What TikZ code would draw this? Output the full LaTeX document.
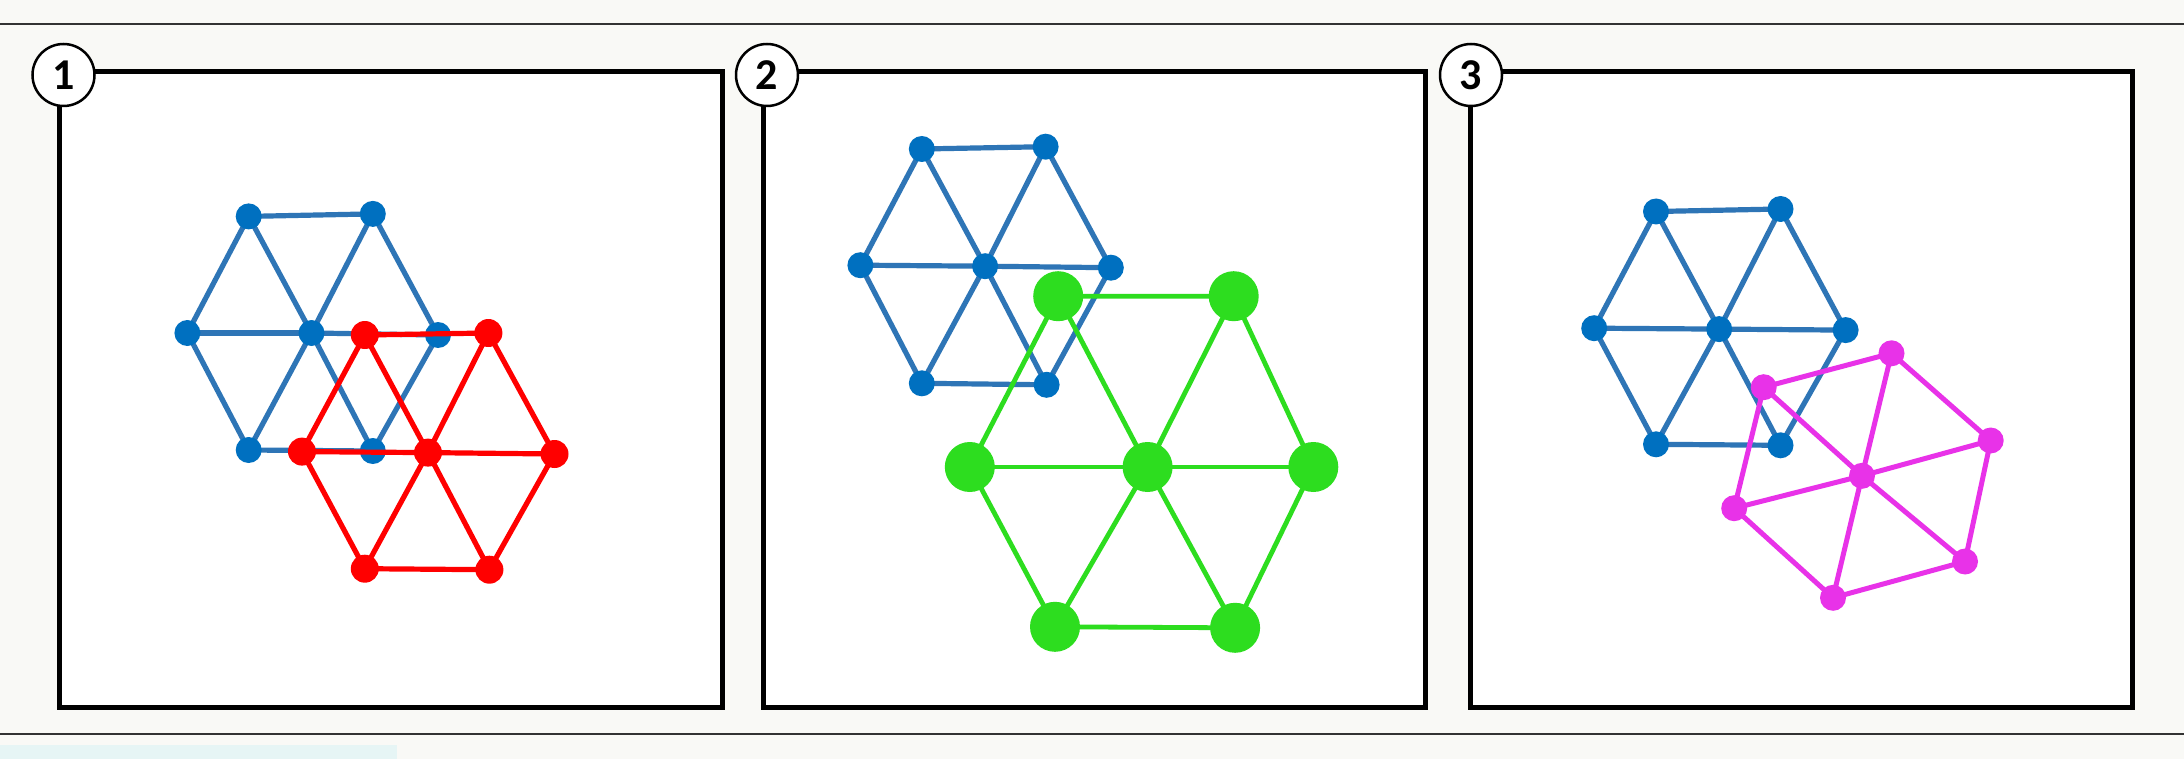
\documentclass[tikz,border=0pt]{standalone}
\usepackage{fontspec}
\setmainfont{Carlito}
\definecolor{pagebg}{HTML}{F9F9F6}
\definecolor{tintbox}{HTML}{E6F5F5}
\definecolor{bluedot}{HTML}{0070C0}
\definecolor{blueline}{HTML}{2E75B6}
\definecolor{reddot}{HTML}{FF0000}
\definecolor{greendot}{HTML}{2DDD1F}
\definecolor{magdot}{HTML}{E832E8}
\definecolor{sepline}{HTML}{333333}
\pgfdeclarelayer{bg}
\pgfdeclarelayer{ea}
\pgfdeclarelayer{na}
\pgfdeclarelayer{eb}
\pgfdeclarelayer{nb}
\pgfsetlayers{bg,ea,na,eb,nb,main}
\begin{document}
\begin{tikzpicture}[x=1pt,y=-1pt,
  dotbase/.style={circle,inner sep=0pt,outer sep=0pt,draw=none},
  bdot/.style={dotbase,fill=bluedot,minimum size=26pt},
  rdot/.style={dotbase,fill=reddot,minimum size=28pt},
  gdot/.style={dotbase,fill=greendot,minimum size=50pt},
  mdot/.style={dotbase,fill=magdot,minimum size=26pt},
  bline/.style={draw=blueline,line width=5.2pt,line join=round},
  rline/.style={draw=reddot,line width=5.2pt,line join=round},
  gline/.style={draw=greendot,line width=4.8pt,line join=round},
  mline/.style={draw=magdot,line width=5pt,line join=round},
  panel/.style={draw=black,fill=white,line width=5pt},
  sep/.style={draw=sepline,line width=2pt},
  numlab/.style={circle,draw=black,fill=white,line width=2.5pt,minimum size=62pt,inner sep=0pt,
    font=\fontsize{44}{44}\selectfont\bfseries}
]
\useasboundingbox (0,0) rectangle (2184,759);
\begin{pgfonlayer}{bg}
  \fill[pagebg] (0,0) rectangle (2184,759);
  \fill[tintbox] (0,745) rectangle (397,759);
  \draw[sep] (0,24) -- (2184,24);
  \draw[sep] (0,734) -- (2184,734);
  \draw[panel] (59,71.7) rectangle (722,707.7);
  \draw[panel] (763,71.7) rectangle (1425.5,707.7);
  \draw[panel] (1470,71.7) rectangle (2132,707.7);
\end{pgfonlayer}

% ---------- Panel 1 ----------
\begin{pgfonlayer}{na}
  \node[bdot] (ab-tl) at (248.7,216.4) {};
  \node[bdot] (ab-tr) at (372.8,213.9) {};
  \node[bdot] (ab-l)  at (187.4,333) {};
  \node[bdot] (ab-c)  at (311.5,333) {};
  \node[bdot] (ab-r)  at (438,335) {};
  \node[bdot] (ab-bl) at (248.7,450) {};
  \node[bdot] (ab-br) at (372.8,451) {};
\end{pgfonlayer}
\begin{pgfonlayer}{nb}
  \node[rdot] (ar-tl) at (364.8,335) {};
  \node[rdot] (ar-tr) at (488.4,333) {};
  \node[rdot] (ar-l)  at (302,451.6) {};
  \node[rdot] (ar-c)  at (428,452.6) {};
  \node[rdot] (ar-r)  at (554.5,454) {};
  \node[rdot] (ar-bl) at (364.8,568.7) {};
  \node[rdot] (ar-br) at (489.4,569.7) {};
\end{pgfonlayer}

% ---------- Panel 2 ----------
\begin{pgfonlayer}{na}
  \node[bdot] (bb-tl) at (921.8,149) {};
  \node[bdot] (bb-tr) at (1045.6,146.7) {};
  \node[bdot] (bb-l)  at (860.4,265.2) {};
  \node[bdot] (bb-c)  at (985.1,266.2) {};
  \node[bdot] (bb-r)  at (1110.8,267.7) {};
  \node[bdot] (bb-bl) at (921.8,383.3) {};
  \node[bdot] (bb-br) at (1046.6,384.8) {};
\end{pgfonlayer}
\begin{pgfonlayer}{nb}
  \node[gdot] (bg-tl) at (1058.2,296.2) {};
  \node[gdot] (bg-tr) at (1233.7,296.2) {};
  \node[gdot] (bg-l)  at (969.8,467) {};
  \node[gdot] (bg-c)  at (1147.6,467) {};
  \node[gdot] (bg-r)  at (1313.3,467) {};
  \node[gdot] (bg-bl) at (1055,626.8) {};
  \node[gdot] (bg-br) at (1235.1,627.8) {};
\end{pgfonlayer}

% ---------- Panel 3 ----------
\begin{pgfonlayer}{na}
  \node[bdot] (cb-tl) at (1656,211.5) {};
  \node[bdot] (cb-tr) at (1780.5,209) {};
  \node[bdot] (cb-l)  at (1594.2,328.2) {};
  \node[bdot] (cb-c)  at (1719.2,329.1) {};
  \node[bdot] (cb-r)  at (1845.6,330.1) {};
  \node[bdot] (cb-bl) at (1656,444.3) {};
  \node[bdot] (cb-br) at (1780.5,445.3) {};
\end{pgfonlayer}
\begin{pgfonlayer}{nb}
  \node[mdot] (cm-tl) at (1763.7,387.2) {};
  \node[mdot] (cm-tr) at (1891.5,353.3) {};
  \node[mdot] (cm-r)  at (1990.7,440.5) {};
  \node[mdot] (cm-c)  at (1862,475.8) {};
  \node[mdot] (cm-br) at (1965,561.5) {};
  \node[mdot] (cm-bl) at (1833,597.8) {};
  \node[mdot] (cm-l)  at (1734.2,508.2) {};
\end{pgfonlayer}

% ---------- Edges ----------
\begin{pgfonlayer}{ea}
  \foreach \g in {ab,bb,cb}{
    \foreach \v in {tl,tr,r,br,bl,l}
      \draw[bline] (\g-c.center) -- (\g-\v.center);
    \draw[bline] (\g-tl.center) -- (\g-tr.center) -- (\g-r.center) -- (\g-br.center)
      -- (\g-bl.center) -- (\g-l.center) -- cycle;
  }
\end{pgfonlayer}
\begin{pgfonlayer}{eb}
  \foreach \g/\s in {ar/rline,bg/gline,cm/mline}{
    \foreach \v in {tl,tr,r,br,bl,l}
      \draw[\s] (\g-c.center) -- (\g-\v.center);
    \draw[\s] (\g-tl.center) -- (\g-tr.center) -- (\g-r.center) -- (\g-br.center)
      -- (\g-bl.center) -- (\g-l.center) -- cycle;
  }
\end{pgfonlayer}

% ---------- Labels ----------
\node[numlab] (lab1) at (63.5,75) {1};
\node[numlab] (lab2) at (767,75) {2};
\node[numlab] (lab3) at (1471,75) {3};
\end{tikzpicture}
\end{document}
